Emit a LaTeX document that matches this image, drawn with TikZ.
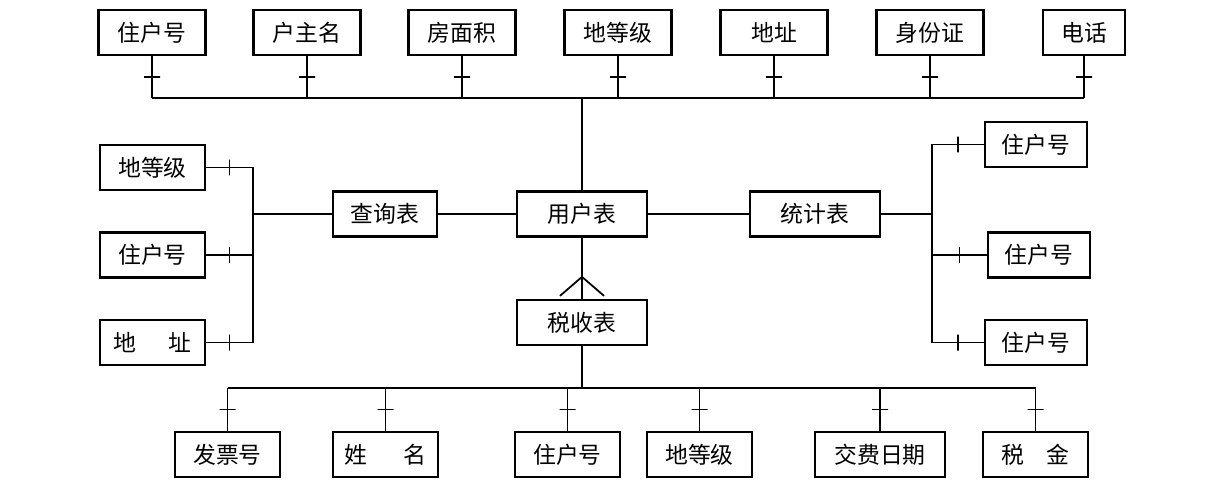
\documentclass[tikz,border=0pt]{standalone}
\usepackage{fontspec}
\setmainfont{Noto Sans CJK SC}
\usetikzlibrary{calc}

\begin{document}
\begin{tikzpicture}[x=0.02cm, y=-0.02cm,
    ent/.style={draw, line width=1.3pt, minimum height=0.9cm, inner sep=0pt, font=\fontsize{13}{15}\selectfont},
    link/.style={line width=1pt},
    barh/.style={draw, line width=1pt, minimum width=0.32cm, minimum height=0pt, inner sep=0pt, outer sep=0pt},
    barv/.style={draw, line width=1pt, minimum width=0pt, minimum height=0.32cm, inner sep=0pt, outer sep=0pt}]
            \useasboundingbox (0,0) rectangle (1221,500);
            % top row of attributes
            \node[ent, minimum width=2.14cm] (zhh) at (152,32.5) {住户号};
            \node[ent, minimum width=2.14cm] (hzm) at (307,32.5) {户主名};
            \node[ent, minimum width=2.14cm] (fmj) at (462,32.5) {房面积};
            \node[ent, minimum width=2.14cm] (ddj) at (618,32.5) {地等级};
            \node[ent, minimum width=2.14cm] (dz)  at (774,32.5) {地址};
            \node[ent, minimum width=2.14cm] (sfz) at (930,32.5) {身份证};
            \node[ent, minimum width=1.64cm] (dh)  at (1084,32.5) {电话};
            \coordinate (topbus) at (582,98);
            \draw[link] (zhh.south |- topbus) -- (dh.south |- topbus);% top bus
            \draw[link] (zhh.south) -- node[barh]{} (zhh.south |- topbus);
            \draw[link] (hzm.south) -- node[barh]{} (hzm.south |- topbus);
            \draw[link] (fmj.south) -- node[barh]{} (fmj.south |- topbus);
            \draw[link] (ddj.south) -- node[barh]{} (ddj.south |- topbus);
            \draw[link] (dz.south)  -- node[barh]{} (dz.south |- topbus);
            \draw[link] (sfz.south) -- node[barh]{} (sfz.south |- topbus);
            \draw[link] (dh.south)  -- node[barh]{} (dh.south |- topbus);

            % middle tables
            \node[ent, minimum width=2.6cm]  (yhb) at (582,214) {用户表};
            \node[ent, minimum width=2.08cm] (cxb) at (385,214) {查询表};
            \node[ent, minimum width=2.6cm]  (tjb) at (815,214) {统计表};
            \node[ent, minimum width=2.6cm]  (ssb) at (582,322.5) {税收表};
            \draw[link] (topbus) -- (yhb.north);
            \draw[link] (cxb.east) -- (yhb.west);
            \draw[link] (yhb.east) -- (tjb.west);
            \draw[link] (yhb.south) -- (ssb.north);
            \draw[link] ($(ssb.north)+(-22,-3)$) -- ($(ssb.north)+(0,-22)$) -- ($(ssb.north)+(22,-3)$);% crow's foot

            % left group
            \coordinate (lbus) at (253,214);
            \node[ent, minimum width=2.1cm] (lddj) at (152.5,167.5) {地等级};
            \node[ent, minimum width=2.1cm] (lzhh) at (152.5,255) {住户号};
            \node[ent, minimum width=2.1cm] (ldz)  at (152.5,342.5) {地\hspace{1.4em}址};
            \draw[link] (cxb.west) -- (lbus);
            \draw[link] (lddj.east -| lbus) -- (ldz.east -| lbus);
            \draw[link] (lddj.east) -- node[barv]{} (lddj.east -| lbus);
            \draw[link] (lzhh.east) -- node[barv]{} (lzhh.east -| lbus);
            \draw[link] (ldz.east)  -- node[barv]{} (ldz.east -| lbus);

            % right group
            \coordinate (rbus) at (932,214);
            \node[ent, minimum width=2.04cm] (rzhh1) at (1036,144.5) {住户号};
            \node[ent, minimum width=2.04cm] (rzhh2) at (1039,255) {住户号};
            \node[ent, minimum width=2.04cm] (rzhh3) at (1036,342.5) {住户号};
            \draw[link] (tjb.east) -- (rbus);
            \draw[link] (rzhh1.west -| rbus) -- (rzhh3.west -| rbus);
            \draw[link] (rzhh1.west -| rbus) -- node[barv]{} (rzhh1.west);
            \draw[link] (rzhh2.west -| rbus) -- node[barv]{} (rzhh2.west);
            \draw[link] (rzhh3.west -| rbus) -- node[barv]{} (rzhh3.west);

            % bottom row
            \coordinate (bbus) at (582,388);
            \node[ent, minimum width=2.1cm] (fph)  at (227.5,454.5) {发票号};
            \node[ent, minimum width=2.1cm] (xm)   at (385.5,454.5) {姓\hspace{1.6em}名};
            \node[ent, minimum width=2.1cm] (bzhh) at (567.5,454.5) {住户号};
            \node[ent, minimum width=2.1cm] (bddj) at (699.5,454.5) {地等级};
            \node[ent, minimum width=2.6cm] (jfrq) at (880,454.5) {交费日期};
            \node[ent, minimum width=2.1cm] (sj)   at (1035.5,454.5) {税\hspace{1em}金};
            \draw[link] (ssb.south) -- (bbus);
            \draw[link] (fph.north |- bbus) -- (sj.north |- bbus);% bottom bus
            \draw[link] (fph.north |- bbus)  -- node[barh]{} (fph.north);
            \draw[link] (xm.north |- bbus)   -- node[barh]{} (xm.north);
            \draw[link] (bzhh.north |- bbus) -- node[barh]{} (bzhh.north);
            \draw[link] (bddj.north |- bbus) -- node[barh]{} (bddj.north);
            \draw[link] (jfrq.north |- bbus) -- node[barh]{} (jfrq.north);
            \draw[link] (sj.north |- bbus)   -- node[barh]{} (sj.north);
        \end{tikzpicture}
\end{document}
